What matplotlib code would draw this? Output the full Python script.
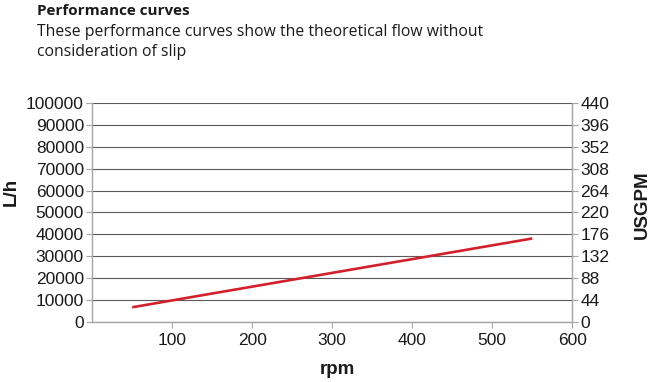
import matplotlib as mpl
import matplotlib.pyplot as plt

# values
rpm = [50, 150, 250, 350, 450, 550]
flow_lh = [6600, 12900, 19200, 25500, 31800, 38100]

left_ticks = [0, 10000, 20000, 30000, 40000, 50000, 60000, 70000, 80000, 90000, 100000]
right_ticks = [0, 44, 88, 132, 176, 220, 264, 308, 352, 396, 440]
x_ticks = [100, 200, 300, 400, 500, 600]

title = "Performance curves"
subtitle_1 = "These performance curves show the theoretical flow without"
subtitle_2 = "consideration of slip"

plt.rcParams['font.family'] = ['Liberation Sans', 'DejaVu Sans']

fig = plt.figure(figsize=(6.53, 3.82), dpi=100)
ax = fig.add_axes([0.1413, 0.1579, 0.8764 - 0.1413, 0.7296 - 0.1579])

spine_col = "#a6a6a6"
grid_col = "#5a5a5a"

ax.plot(rpm, flow_lh, color="#d2202c", lw=1.9, solid_capstyle="butt")

ax.set_xlim(0, 600)
ax.set_ylim(0, 100000)
ax.set_xticks(x_ticks)
ax.set_yticks(left_ticks)
ax.yaxis.grid(True, color=grid_col, lw=0.8)
ax.set_axisbelow(True)

ax.spines["top"].set_visible(False)
for s in ["left", "bottom", "right"]:
    ax.spines[s].set_color(spine_col)
    ax.spines[s].set_linewidth(1.0)

ax.tick_params(axis="both", direction="out", length=4, width=0.8, color=spine_col,
               labelsize=12.5, labelcolor="#1a1a1a", pad=2)
ax.tick_params(axis="x", pad=4)

ax2 = ax.twinx()
ax2.set_ylim(0, 440)
ax2.set_yticks(right_ticks)
for s in ["top", "left", "bottom"]:
    ax2.spines[s].set_visible(False)
ax2.spines["right"].set_color(spine_col)
ax2.tick_params(axis="y", direction="out", length=4, width=0.8, color=spine_col,
                labelsize=12.5, labelcolor="#1a1a1a", pad=2)

fig.text(0.0165, 0.497, "L/h", rotation=90, fontsize=13.5, fontweight="bold",
         ha="center", va="center", color="#1a1a1a")
fig.text(0.983, 0.463, "USGPM", rotation=90, fontsize=13.5, fontweight="bold",
         ha="center", va="center", color="#1a1a1a")
fig.text(0.516, 0.02, "rpm", fontsize=13.5, fontweight="bold",
         ha="center", va="baseline", color="#1a1a1a")

fig.text(0.0567, 0.9607, title, family=["Open Sans", "DejaVu Sans"], fontweight="bold",
         fontsize=11, va="baseline", color="#1a1a1a")
fig.text(0.0567, 0.9058, subtitle_1, family=["Open Sans", "DejaVu Sans"],
         fontsize=11.3, va="baseline", color="#1a1a1a")
fig.text(0.0567, 0.8534, subtitle_2, family=["Open Sans", "DejaVu Sans"],
         fontsize=11.3, va="baseline", color="#1a1a1a")

fig.savefig("out.png", dpi=100)
